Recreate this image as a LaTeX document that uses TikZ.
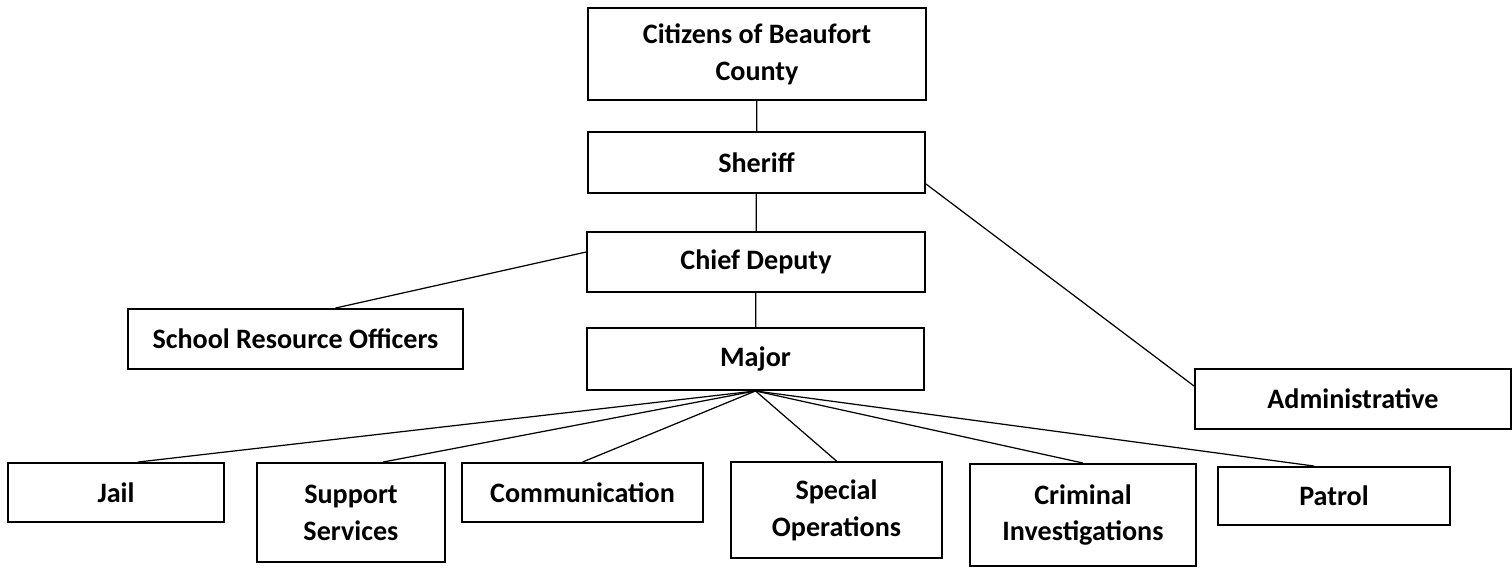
\documentclass[tikz,border=0pt]{standalone}
\usepackage{fontspec}
\setmainfont{Carlito}
\usepackage{tikz}

\begin{document}
\begin{tikzpicture}
				[x=0.02cm,y=-0.02cm,every node/.style={rectangle,draw,line width=1.1pt,inner sep=0pt,align=center,font=\fontsize{16}{21}\selectfont\bfseries}, edge/.style={line width=0.7pt}]
				\useasboundingbox (0,0) rectangle (1512,571);
				\node[minimum width=6.76cm,minimum height=1.84cm] (cit) at (757,54)  {Citizens of Beaufort\\County};
				\node[minimum width=6.74cm,minimum height=1.22cm] (sheriff) at (756.5,162.5)  {Sheriff};
				\node[minimum width=6.76cm,minimum height=1.2cm] (chief) at (756,262)  {Chief Deputy};
				\node[minimum width=6.74cm,minimum height=1.24cm] (major) at (755.5,359)  {Major};
				\node[minimum width=6.7cm,minimum height=1.2cm] (sro) at (295.5,339)  {School Resource Officers};
				\node[minimum width=6.32cm,minimum height=1.2cm] (admin) at (1353,399)  {Administrative};

				\node[minimum width=4.32cm,minimum height=1.18cm] (jail) at (116,492.5)  {Jail};
				\node[minimum width=3.76cm,minimum height=1.98cm] (support) at (351,512.5)  {Support\\Services};
				\node[minimum width=4.82cm,minimum height=1.18cm] (comm) at (582.5,492.5)  {Communication};
				\node[minimum width=4.22cm,minimum height=1.92cm] (special) at (836.5,510)  {Special\\Operations};
				\node[minimum width=4.52cm,minimum height=2.04cm] (crim) at (1083,515)  {Criminal\\Investigations};
				\node[minimum width=4.64cm,minimum height=1.16cm] (patrol) at (1334,496)  {Patrol};

				\draw[edge] (cit) -- (sheriff);
				\draw[edge] (sheriff) -- (chief);
				\draw[edge] (chief) -- (major);
				\draw[edge] ([yshift=0.2cm]sheriff.south east) -- ([yshift=-0.36cm]admin.north west);
				\draw[edge] ([yshift=-0.42cm]chief.north west) -- ([xshift=0.8cm]sro.north);
				\foreach \n/\s in {jail/0.44,support/0.64,comm/0,special/0,crim/0,patrol/-0.4}
					\draw[edge] (major.south) -- ([xshift=\s cm]\n.north);
\end{tikzpicture}
\end{document}
